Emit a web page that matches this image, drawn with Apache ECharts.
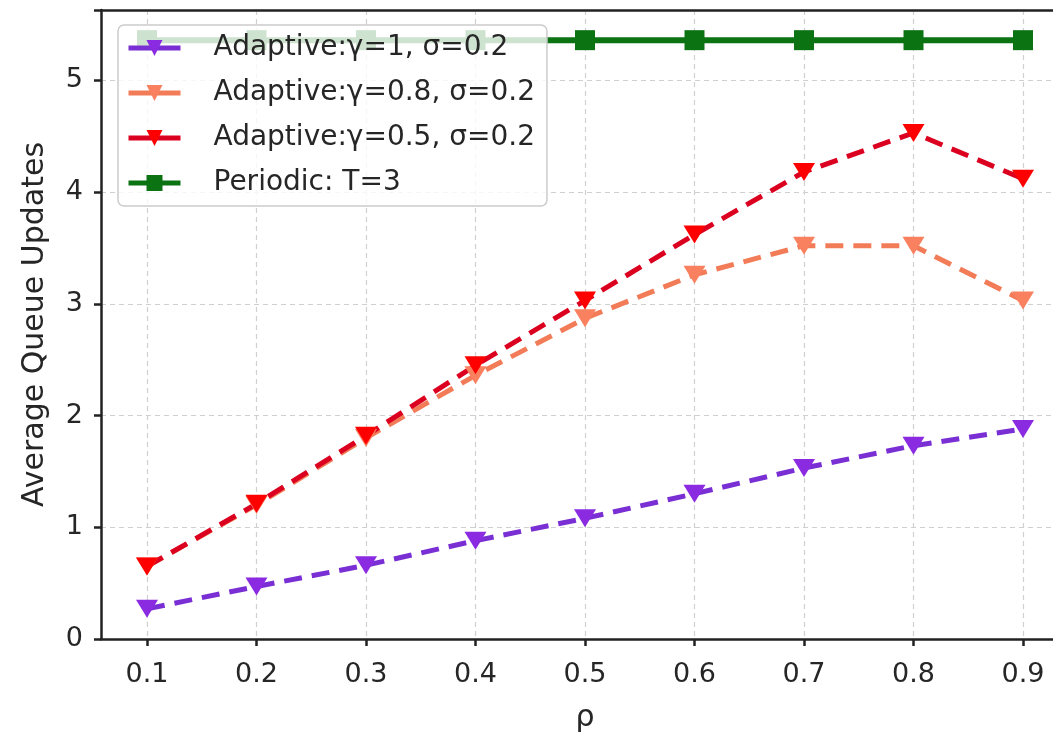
<!DOCTYPE html>
<html lang="en">
<head>
    <meta charset="UTF-8">
    <title>Average Queue Updates</title>
    <style>
        body,html{
            margin: 0;
            overflow: hidden;
            background: #fff;
        }
        #chart{
            width: 1070px;
            height: 735px;
        }
    </style>
</head>
<body>

<div id="chart"></div>

<script src="https://cdn.jsdelivr.net/npm/echarts@6/dist/echarts.min.js"></script>
<script type="text/javascript">

    // 数据
    let rho = [0.1, 0.2, 0.3, 0.4, 0.5, 0.6, 0.7, 0.8, 0.9];
    let xTicks = [0.1, 0.2, 0.3, 0.4, 0.5, 0.6, 0.7, 0.8, 0.9];
    let adaptG1 = [0.27, 0.47, 0.66, 0.88, 1.08, 1.30, 1.53, 1.73, 1.88];
    let adaptG08 = [0.65, 1.20, 1.80, 2.36, 2.87, 3.26, 3.52, 3.52, 3.03];
    let adaptG05 = [0.65, 1.21, 1.82, 2.45, 3.03, 3.62, 4.18, 4.53, 4.12];
    let periodic = [5.36, 5.36, 5.36, 5.36, 5.36, 5.36, 5.36, 5.36, 5.36];
    let names = ['Adaptive:γ=1, σ=0.2', 'Adaptive:γ=0.8, σ=0.2', 'Adaptive:γ=0.5, σ=0.2', 'Periodic: T=3'];

    function pairs(ys) {
        return ys.map(function (y, i) { return [rho[i], y]; });
    }

    let font = 'DejaVu Sans';
    let dash = [18, 10];
    let spine = {color: '#222', width: 2.5};
    let grid = {show: true, lineStyle: {color: '#d0d0d0', type: [5, 4], width: 1.2}};

    let chart = echarts.init(document.getElementById('chart'));
    let option = {
        animation: false,
        textStyle: {fontFamily: font, color: '#262626'},
        grid: {left: 101, right: 1, top: 10, bottom: 96, outerBoundsMode: 'none', containLabel: false},
        legend: {
            left: 118, top: 25,
            orient: 'vertical',
            data: names,
            itemWidth: 52, itemHeight: 20, itemGap: 17,
            padding: [9, 12, 9, 8],
            backgroundColor: 'rgba(255,255,255,0.8)',
            borderColor: '#cccccc', borderWidth: 1.5, borderRadius: 6,
            lineStyle: {type: 'solid', width: 5},
            textStyle: {fontSize: 28, color: '#262626', fontFamily: font, padding: [0, 0, 0, 28]}
        },
        xAxis: [
            {
                type: 'value',
                min: 0.058, max: 0.942,
                name: 'ρ', nameLocation: 'middle', nameGap: 64,
                nameTextStyle: {fontSize: 30, color: '#262626'},
                axisLine: {lineStyle: spine},
                axisTick: {length: 7, lineStyle: spine, customValues: xTicks},
                axisLabel: {fontSize: 27, color: '#262626', margin: 22, customValues: xTicks,
                    formatter: function (v) { return v.toFixed(1); }},
                splitLine: grid
            },
            {
                // 上边框
                type: 'value', position: 'top',
                min: 0.058, max: 0.942,
                axisLine: {show: true, lineStyle: spine},
                axisTick: {show: false}, axisLabel: {show: false}, splitLine: {show: false}
            }
        ],
        yAxis: {
            type: 'value',
            min: 0, max: 5.63, interval: 1,
            name: 'Average Queue Updates', nameLocation: 'middle', nameGap: 51,
            nameTextStyle: {fontSize: 30, color: '#262626'},
            axisLine: {show: true, lineStyle: spine},
            axisTick: {show: true, length: 7, lineStyle: spine},
            axisLabel: {fontSize: 27, color: '#262626', margin: 18,
                formatter: function (v) { return Number.isInteger(v) ? String(v) : ''; }},
            splitLine: grid
        },
        series: [
            {
                name: names[0], type: 'line', data: pairs(adaptG1),
                symbol: 'triangle', symbolRotate: 180, symbolSize: [22, 18],
                lineStyle: {color: '#7a2fd4', width: 5, type: dash},
                itemStyle: {color: '#8a2be2'}, z: 3
            },
            {
                name: names[1], type: 'line', data: pairs(adaptG08),
                symbol: 'triangle', symbolRotate: 180, symbolSize: [22, 18],
                lineStyle: {color: '#f27c58', width: 5, type: dash},
                itemStyle: {color: '#fa8160'}, z: 3
            },
            {
                name: names[2], type: 'line', data: pairs(adaptG05),
                symbol: 'triangle', symbolRotate: 180, symbolSize: [22, 18],
                lineStyle: {color: '#dc0020', width: 5, type: dash},
                itemStyle: {color: '#ff0000'}, z: 3
            },
            {
                name: names[3], type: 'line', data: pairs(periodic),
                symbol: 'rect', symbolSize: 20,
                lineStyle: {color: '#0b7312', width: 6},
                itemStyle: {color: '#0b7312'}, z: 3
            }
        ]
    };
    chart.setOption(option);
</script>
</body>
</html>
